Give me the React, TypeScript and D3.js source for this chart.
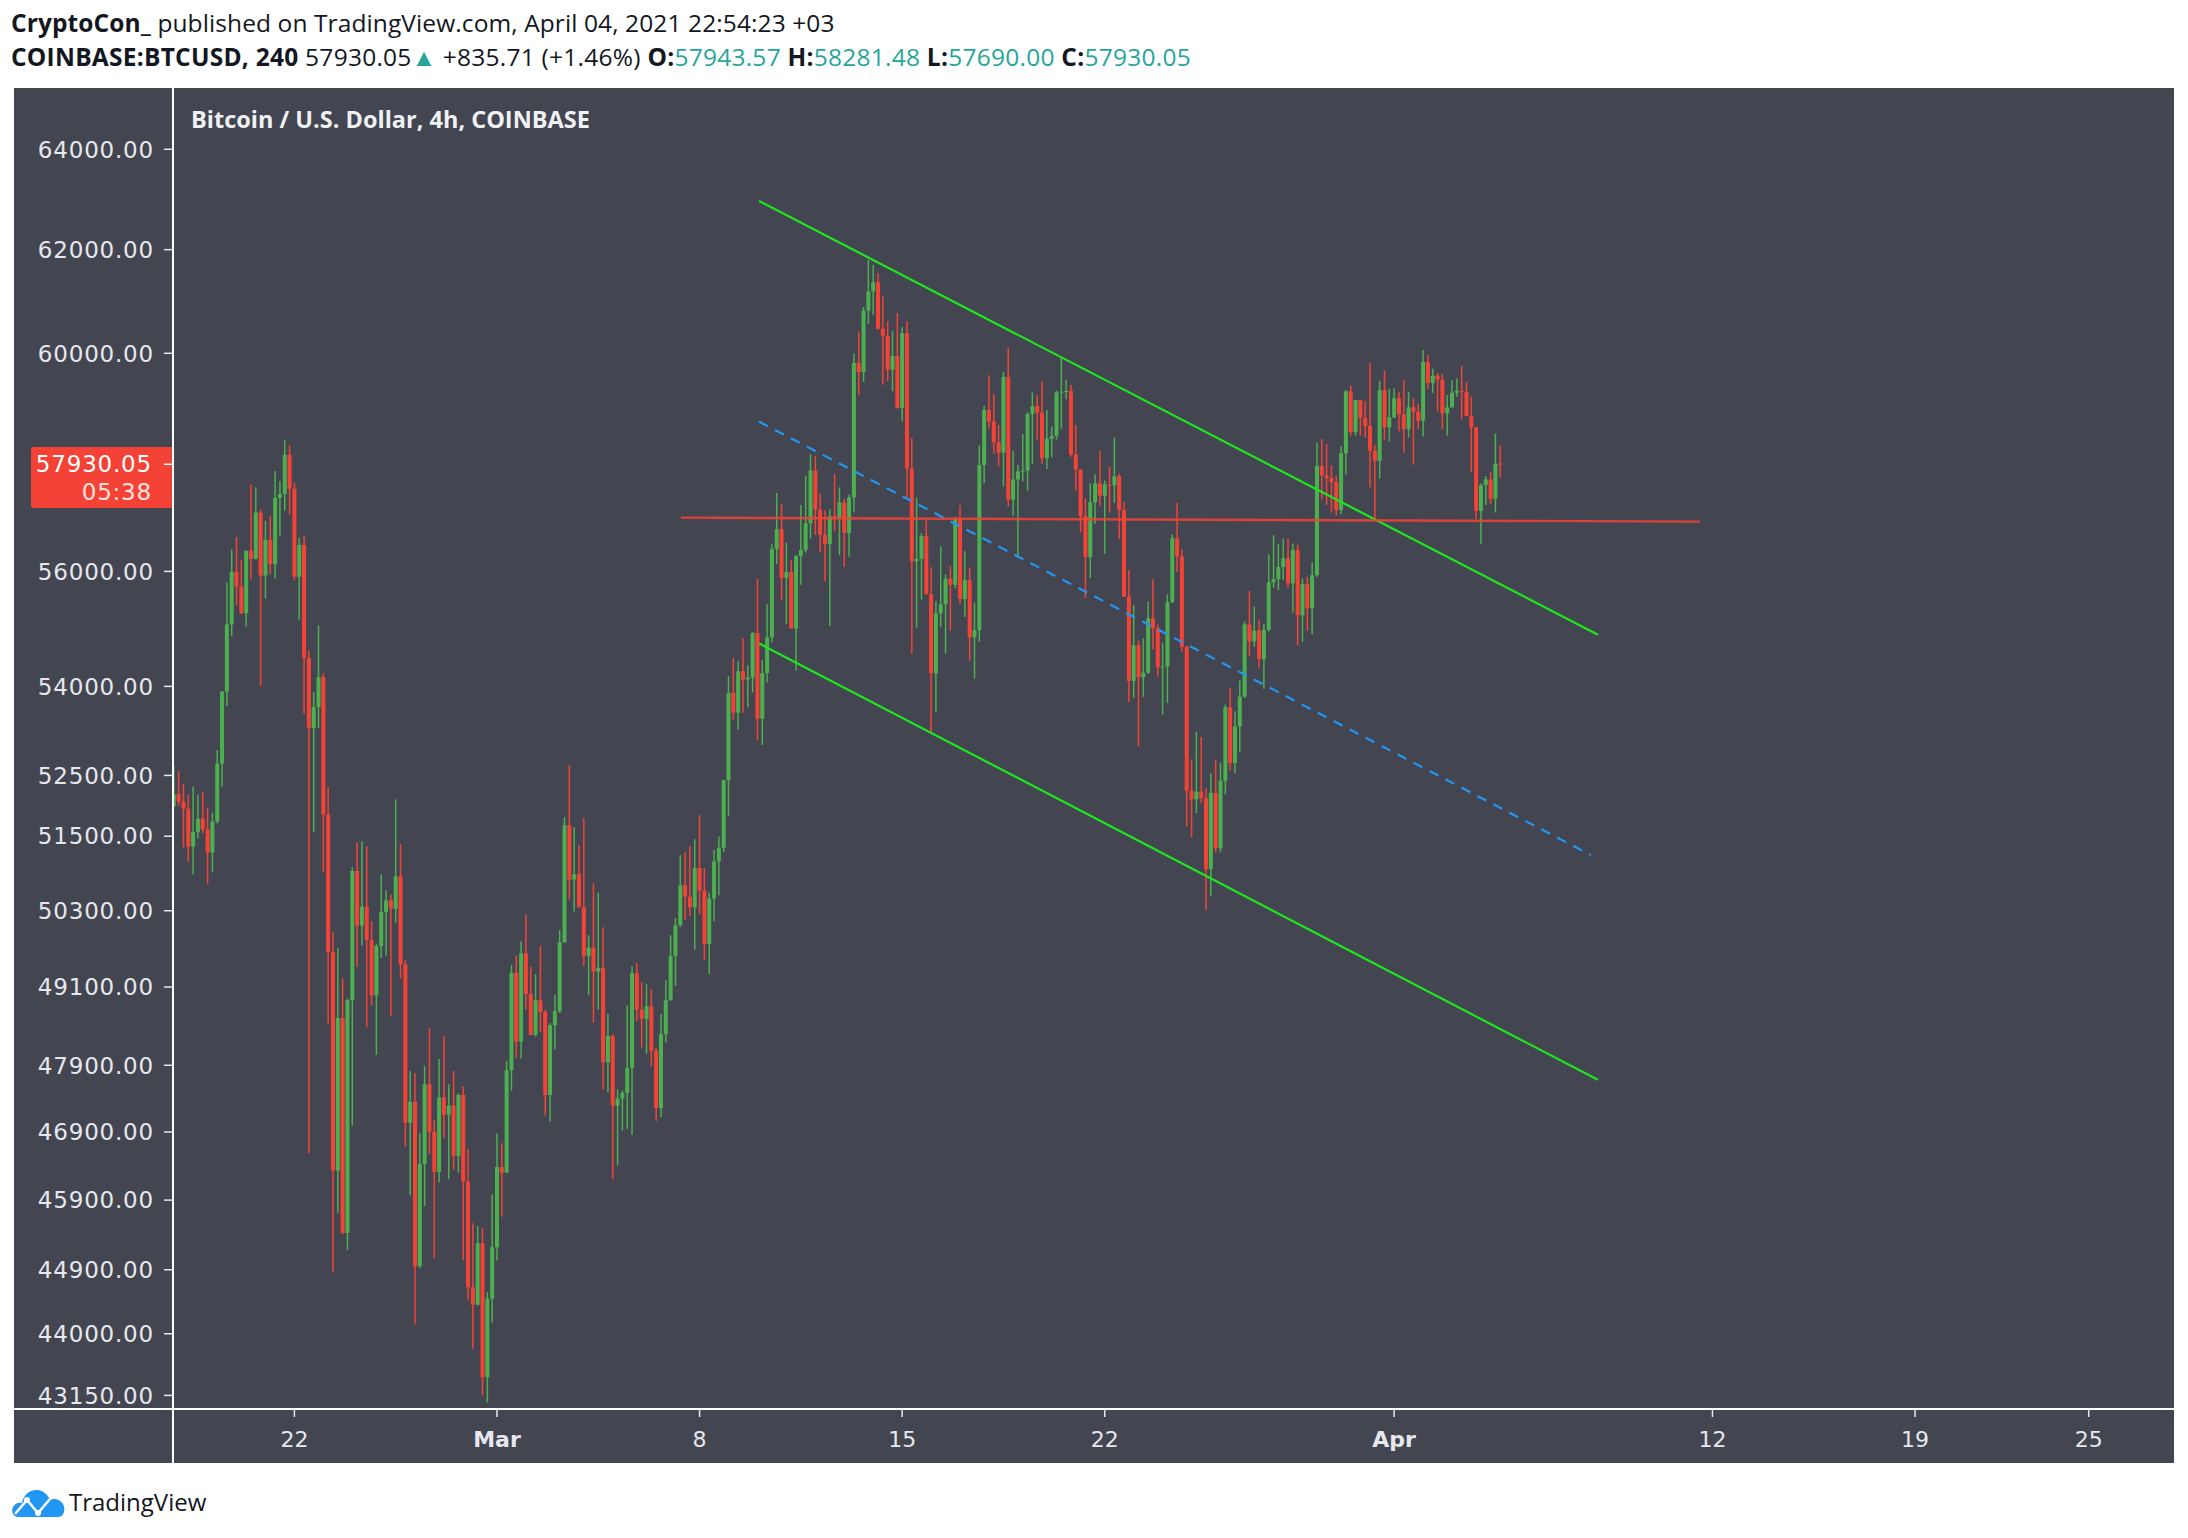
import React from 'react';
import * as d3 from 'd3';

// ---------- data ----------
// 4h candles, first candle opens 2021-02-17 20:00, last one 2021-04-04 16:00
const FIRST_CANDLE_TIME = Date.UTC(2021, 1, 17, 20);
const CANDLE_MS = 4 * 3600 * 1000;
const FIRST_OPEN = 51991;

const closes = [
  52190, 52067, 51950, 51333, 51569, 51785, 51609, 51235, 51739, 52698, 53912, 55068, 55994, 55734, 55263, 56369, 56223, 57052, 55925, 56561, 56128, 57316, 57388, 58102, 57487,
  55905, 56469, 54491, 53293, 53650, 54159, 51856, 49646, 46330, 48622,
  45425, 48896, 50936, 50063, 50365, 49839, 48971, 49742, 50276, 50467,
  50333, 50852, 49452, 47036, 47349, 44951, 46426, 47612, 46904, 46312,
  47415, 47157, 47295, 46549, 47452, 46167, 44652, 44406, 45279, 43396,
  44490, 45221, 46384, 46300, 47824, 49319, 48259, 49628, 48993, 48361,
  48896, 48716, 47452, 48510, 48728, 49802, 51679, 50798, 50886, 50355,
  49581, 49718, 49341, 49402, 47945, 48348, 47294, 47400, 47483, 47863,
  49317, 48749, 48609, 48803, 48119, 47256, 48372, 48898, 49581, 50070,
  50706, 50526, 50355, 50983, 50625, 49773, 50497, 51089, 51314, 52420,
  53890, 53553, 54259, 54118, 54149, 54919, 53449, 54228, 54843, 56397,
  56753, 55885, 55987, 54998, 56272, 56380, 56858, 57816, 57104, 56650,
  56489, 56986, 56953, 57233, 56684, 57325, 59817, 59643, 60814, 61187,
  61363, 60468, 60331, 59690, 59947, 58972, 60385, 57850, 56176, 56221,
  56631, 55601, 54223, 55263, 55419, 55869, 55762, 56941, 55514, 55843,
  54843, 54968, 57916, 58933, 58720, 58336, 58146, 59555, 57286, 57653,
  57799, 57812, 58860, 59006, 58886, 58041, 58398, 58451, 59262, 59276,
  59290, 58109, 57831, 56986, 56253, 57240, 57581, 57357, 57561, 57548,
  57712, 57097, 55552, 54094, 54706, 54156, 54235, 55175, 55005, 54328,
  54344, 55458, 56592, 56265, 54680, 52244, 52103, 52230, 52124, 50967,
  52210, 51303, 52412, 53645, 52706, 53321, 53826, 55068, 54774, 54961,
  54470, 54975, 55807, 55863, 56078, 56232, 55787, 56380, 55226, 55774,
  55349, 55932, 57898, 57726, 57682, 57608, 57097, 58131, 59283, 58523,
  59120, 58789, 58640, 58179, 57995, 59307, 58611, 58796, 59152, 58852,
  58578, 58983, 58902, 58735, 59835, 59441, 59577, 59502, 58871, 58983,
  59257, 59294, 59275, 58820, 58611, 57084, 57548, 57653, 57302, 57943.57,
  57930.05,
];

const highs = [
  52656, 52572, 52358, 52174, 52311, 52190, 52226, 51968, 51885, 52924, 53912, 55803, 56388, 56613, 56210, 56369, 57564, 57512, 57103, 56903, 56994, 57807, 57623, 58373, 58279,
  57592, 56600, 56630, 54620, 53900, 55052, 54226, 52311, 49961, 49704,
  49239, 48921, 50996, 51403, 51416, 51335, 50133, 49781, 50884, 50625,
  50559, 52103, 51369, 49521, 47813, 47782, 46880, 47887, 48467, 47084,
  47997, 48343, 47612, 47813, 47476, 47581, 46650, 45565, 45524, 45495,
  44583, 45986, 46880, 46734, 47966, 49446, 49591, 49818, 50244, 49414,
  49300, 49742, 48747, 48541, 48977, 49993, 51813, 52671, 51645, 51350,
  51796, 49910, 50739, 50589, 50036, 48682, 48372, 47537, 47521, 48820,
  49424, 49474, 49172, 49144, 49067, 48171, 48682, 49208, 49910, 50183,
  51193, 51240, 51332, 51451, 51844, 50983, 50589, 51274, 51496, 52420,
  54173, 54487, 54432, 54829, 54365, 54933, 55870, 54451, 55419, 56494,
  57406, 57206, 56510, 56201, 56290, 57188, 57719, 58113, 58080, 57398,
  57090, 57110, 57753, 57509, 57298, 57377, 60002, 60420, 60889, 61805,
  61699, 61544, 61091, 60613, 60420, 60771, 60497, 60613, 58411, 57325,
  56684, 56928, 56074, 55475, 56443, 55946, 56092, 56968, 57188, 56360,
  56060, 55444, 58278, 59006, 59587, 59227, 58652, 59643, 60111, 58172,
  57916, 58486, 58893, 59262, 59209, 59466, 58933, 58631, 59294, 59949,
  59500, 59400, 58652, 57845, 57311, 57581, 57745, 58172, 57633, 57891,
  58425, 57758, 57240, 56023, 55407, 54792, 54824, 55475, 55863, 55068,
  54743, 55596, 56657, 57226, 56392, 54699, 52767, 53232, 53141, 52289,
  52534, 52755, 52713, 53688, 53981, 53577, 54099, 55118, 55657, 55382,
  55156, 55080, 56303, 56644, 56494, 56584, 56584, 56494, 56482, 55874,
  55902, 56160, 58328, 58402, 58297, 57910, 57726, 58260, 59302, 59391,
  59120, 59120, 59101, 59816, 58285, 59478, 59682, 59326, 59339, 59269,
  59492, 59275, 59152, 59045, 60063, 59968, 59710, 59625, 59606, 59213,
  59492, 59525, 59758, 59455, 59182, 58616, 57579, 57714, 57789, 58501,
  58281.48,
];

const lows = [
  51973, 51991, 51318, 51090, 50878, 51463, 51551, 50733, 50917, 51709, 52311, 53667, 54863, 55407, 55249, 55031, 55860, 56210, 54003, 55523, 55950, 55880, 56639, 57084, 57019,
  55843, 55156, 53535, 46586, 51562, 53293, 50917, 48541, 44863, 45717,
  45408, 45179, 46994, 49414, 49755, 48479, 48821, 48058, 49553, 49591,
  48654, 50108, 49231, 46684, 45972, 44129, 44921, 45816, 46579, 45065,
  46155, 46814, 46206, 46341, 46300, 45036, 44479, 43790, 44395, 43155,
  43050, 44157, 45031, 45659, 46300, 47514, 48015, 48003, 48753, 48361,
  48336, 48405, 47145, 47054, 48143, 48698, 49792, 50481, 50287, 50355,
  49430, 48979, 48549, 48749, 47531, 47488, 46205, 46409, 46923, 46944,
  46854, 48577, 48171, 48075, 47890, 47064, 47123, 48251, 48886, 49116,
  50041, 50156, 50218, 49690, 50247, 49526, 49301, 50132, 50549, 51244,
  51833, 53433, 53263, 53553, 53645, 53895, 53086, 53008, 54069, 54759,
  56130, 55495, 55073, 54998, 54266, 55762, 56335, 56585, 56650, 56347,
  55825, 55043, 56717, 56290, 56080, 56258, 57059, 59218, 59458, 60559,
  60731, 60454, 59406, 59472, 59282, 58959, 58725, 57325, 54562, 55012,
  55502, 55583, 53220, 53560, 55024, 54562, 54961, 55699, 55419, 55200,
  54439, 54129, 54766, 57588, 58585, 58126, 57891, 57529, 57162, 57000,
  56238, 57620, 57449, 57929, 58385, 57942, 57845, 58055, 58385, 58585,
  59133, 58068, 57442, 56696, 55533, 55882, 56851, 57175, 56315, 57052,
  57226, 56577, 55552, 53735, 53803, 52987, 53820, 54216, 54636, 54164,
  53518, 53717, 55444, 55991, 54593, 51660, 51485, 51879, 52044, 50309,
  50533, 51240, 51240, 52181, 52576, 52534, 52887, 53800, 54513, 54680,
  54328, 53960, 54943, 55711, 55670, 55843, 55714, 55272, 54707, 54767,
  54961, 54903, 55902, 57291, 57188, 57055, 57001, 57024, 57745, 58460,
  58460, 58454, 58423, 57512, 56911, 57668, 58386, 58356, 58778, 58541,
  58143, 58423, 57922, 58578, 58441, 59328, 59252, 58909, 58578, 58460,
  58976, 59182, 58760, 58820, 57793, 56934, 56481, 57194, 57201, 57055,
  57690,
];

const priceTicks = [64000, 62000, 60000, 56000, 54000, 52500, 51500, 50300, 49100, 47900, 46900, 45900, 44900, 44000, 43150];

const timeTickDates = [
  Date.UTC(2021, 1, 22), Date.UTC(2021, 2, 1), Date.UTC(2021, 2, 8), Date.UTC(2021, 2, 15),
  Date.UTC(2021, 2, 22), Date.UTC(2021, 3, 1), Date.UTC(2021, 3, 12), Date.UTC(2021, 3, 19), Date.UTC(2021, 3, 25),
];
const timeTickLabels = ['22', 'Mar', '8', '15', '22', 'Apr', '12', '19', '25'];
const timeTickBold = [false, true, false, false, false, true, false, false, false];

const lineNames = ['upper', 'lower', 'mid', 'level'];
const lineStartTimes = [Date.UTC(2021, 2, 10, 1, 18), Date.UTC(2021, 2, 10, 1, 18), Date.UTC(2021, 2, 10, 1, 18), Date.UTC(2021, 2, 7, 8, 38)];
const lineStartPrices = [62962, 54740, 58718, 56961];
const lineEndTimes = [Date.UTC(2021, 3, 8, 1, 0), Date.UTC(2021, 3, 8, 1, 0), Date.UTC(2021, 3, 7, 19, 12), Date.UTC(2021, 3, 11, 13, 40)];
const lineEndPrices = [54889, 47680, 51193, 56889];

const lastPrice = 57930.05;
const countdown = '05:38';

// ---------- layout ----------
const W = 2188;
const H = 1538;
const PANEL_L = 14, PANEL_R = 2174, PANEL_T = 88, PANEL_B = 1463;
const PLOT_L = 173, PLOT_B = 1409;

const BG = '#434651';
const UP = '#4caf50';
const DOWN = '#f44336';
const AXIS_TEXT = '#e6e8ee';
const TEAL = '#26a69a';

const x = d3.scaleTime()
  .domain([new Date(Date.UTC(2021, 1, 22)), new Date(Date.UTC(2021, 3, 25))])
  .range([294.4, 2088.7]);
const y = d3.scaleLog().domain([64000, 43150]).range([149.3, 1395.4]);

const lineStyles: Record<string, { stroke: string; width: number; dash?: string; opacity?: number }> = {
  upper: { stroke: '#1ee61e', width: 2.2 },
  lower: { stroke: '#1ee61e', width: 2.2 },
  mid: { stroke: '#2196f3', width: 2.2, dash: '10 8' },
  level: { stroke: '#f44336', width: 2.4, opacity: 0.85 },
};

export default function App() {
  const candles = closes.map((c, i) => {
    const o = i === 0 ? FIRST_OPEN : closes[i - 1];
    return { t: FIRST_CANDLE_TIME + i * CANDLE_MS, o, c, h: highs[i], l: lows[i] };
  });

  const bodyW = 4;
  const axisFont = '"DejaVu Sans", Verdana, sans-serif';
  const uiFont = '"Open Sans", "Noto Sans", sans-serif';

  return (
    <svg width={W} height={H} style={{ position: 'absolute', left: 0, top: 0, background: '#fff' }}>
      <defs>
        <clipPath id="plotClip">
          <rect x={PLOT_L} y={PANEL_T} width={PANEL_R - PLOT_L} height={PLOT_B - PANEL_T} />
        </clipPath>
      </defs>
      <rect x={0} y={0} width={W} height={H} fill="#fff" />

      {/* header */}
      <text x={11} y={32} fontFamily={uiFont} fontSize={24.5} letterSpacing={0.1} fill="#131722">
        <tspan fontWeight={700}>CryptoCon_</tspan>
        <tspan> published on TradingView.com, April 04, 2021 22:54:23 +03</tspan>
      </text>
      <text x={11} y={66} fontFamily={uiFont} fontSize={24.5} letterSpacing={0.25} fill="#131722">
        <tspan fontWeight={700}>COINBASE:BTCUSD, 240</tspan>
        <tspan> 57930.05</tspan>
        <tspan fill={TEAL}>▲</tspan>
        <tspan> +835.71 (+1.46%) </tspan>
        <tspan fontWeight={700}>O:</tspan><tspan fill={TEAL}>57943.57</tspan>
        <tspan fontWeight={700}> H:</tspan><tspan fill={TEAL}>58281.48</tspan>
        <tspan fontWeight={700}> L:</tspan><tspan fill={TEAL}>57690.00</tspan>
        <tspan fontWeight={700}> C:</tspan><tspan fill={TEAL}>57930.05</tspan>
      </text>

      {/* panel */}
      <rect x={PANEL_L} y={PANEL_T} width={PANEL_R - PANEL_L} height={PANEL_B - PANEL_T} fill={BG} />

      {/* candles */}
      <g clipPath="url(#plotClip)">
        {candles.map((d, i) => {
          const cx = x(new Date(d.t));
          const col = d.c >= d.o ? UP : DOWN;
          const yTop = y(Math.max(d.o, d.c));
          const yBot = y(Math.min(d.o, d.c));
          return (
            <g key={i}>
              <line x1={cx} x2={cx} y1={y(d.h)} y2={y(d.l)} stroke={col} strokeWidth={1.5} />
              <rect x={cx - bodyW / 2} y={yTop} width={bodyW} height={Math.max(1, yBot - yTop)} fill={col} />
            </g>
          );
        })}

        {/* drawings */}
        {lineNames.map((n, i) => {
          const s = lineStyles[n];
          return (
            <line key={n}
              x1={x(new Date(lineStartTimes[i]))} y1={y(lineStartPrices[i])}
              x2={x(new Date(lineEndTimes[i]))} y2={y(lineEndPrices[i])}
              stroke={s.stroke} strokeWidth={s.width} strokeDasharray={s.dash}
              strokeOpacity={s.opacity ?? 1} />
          );
        })}
      </g>

      {/* title */}
      <text x={191} y={128} fontFamily={uiFont} fontWeight={700} fontSize={23.5} fill="#f0f1f4">
        Bitcoin / U.S. Dollar, 4h, COINBASE
      </text>

      {/* price axis */}
      {priceTicks.map((p) => (
        <g key={p}>
          <line x1={164} x2={PLOT_L} y1={y(p)} y2={y(p)} stroke={AXIS_TEXT} strokeWidth={1.5} />
          <text x={154} y={y(p)} dy="0.36em" textAnchor="end" fontFamily={axisFont} fontSize={23}
            letterSpacing={0.8} fill={AXIS_TEXT}>{p.toFixed(2)}</text>
        </g>
      ))}

      {/* last price label */}
      <path d={`M${PLOT_L},${447} L${34},${447} Q${31},${447} ${31},${450} L${31},${505} Q${31},${508} ${34},${508} L${PLOT_L},${508} Z`}
        fill="#f44336" />
      <line x1={164} x2={PLOT_L} y1={y(lastPrice)} y2={y(lastPrice)} stroke="#ffffff" strokeWidth={1.5} />
      <text x={152} y={472} textAnchor="end" fontFamily={axisFont} fontSize={23} letterSpacing={0.8} fill="#ffffff">
        {lastPrice.toFixed(2)}
      </text>
      <text x={152} y={500} textAnchor="end" fontFamily={axisFont} fontSize={23} letterSpacing={0.8} fill="#ffe1de">
        {countdown}
      </text>

      {/* time axis */}
      {timeTickDates.map((t, i) => {
        const tx = x(new Date(t));
        return (
          <g key={i}>
            <line x1={tx} x2={tx} y1={PLOT_B} y2={PLOT_B + 8} stroke={AXIS_TEXT} strokeWidth={1.5} />
            <text x={tx} y={1447} textAnchor="middle" fontFamily={axisFont} fontSize={22}
              fontWeight={timeTickBold[i] ? 700 : 400} fill={AXIS_TEXT}>{timeTickLabels[i]}</text>
          </g>
        );
      })}

      {/* axis separators */}
      <line x1={PLOT_L} x2={PLOT_L} y1={PANEL_T} y2={PANEL_B} stroke="#ffffff" strokeWidth={2} />
      <line x1={PANEL_L} x2={PANEL_R} y1={PLOT_B} y2={PLOT_B} stroke="#ffffff" strokeWidth={2} />

      {/* TradingView logo */}
      <g transform="translate(12,1486)">
        <path d="M6,31 C1,31 -1,25 1,21 C3,17 7,16 10,17 C11,9 18,3 26,4 C32,5 36,9 38,14 C42,12 48,13 51,18 C54,23 52,31 46,31 Z" fill="#2196f3" />
        <polyline points="3,28 15,14 26,27 38,13" fill="none" stroke="#ffffff" strokeWidth={2.5} />
        <circle cx={15} cy={14} r={3} fill="#ffffff" />
        <circle cx={26} cy={27} r={3} fill="#ffffff" />
      </g>
      <text x={69} y={1511} fontFamily={uiFont} fontSize={24} fill="#131722">TradingView</text>
    </svg>
  );
}
